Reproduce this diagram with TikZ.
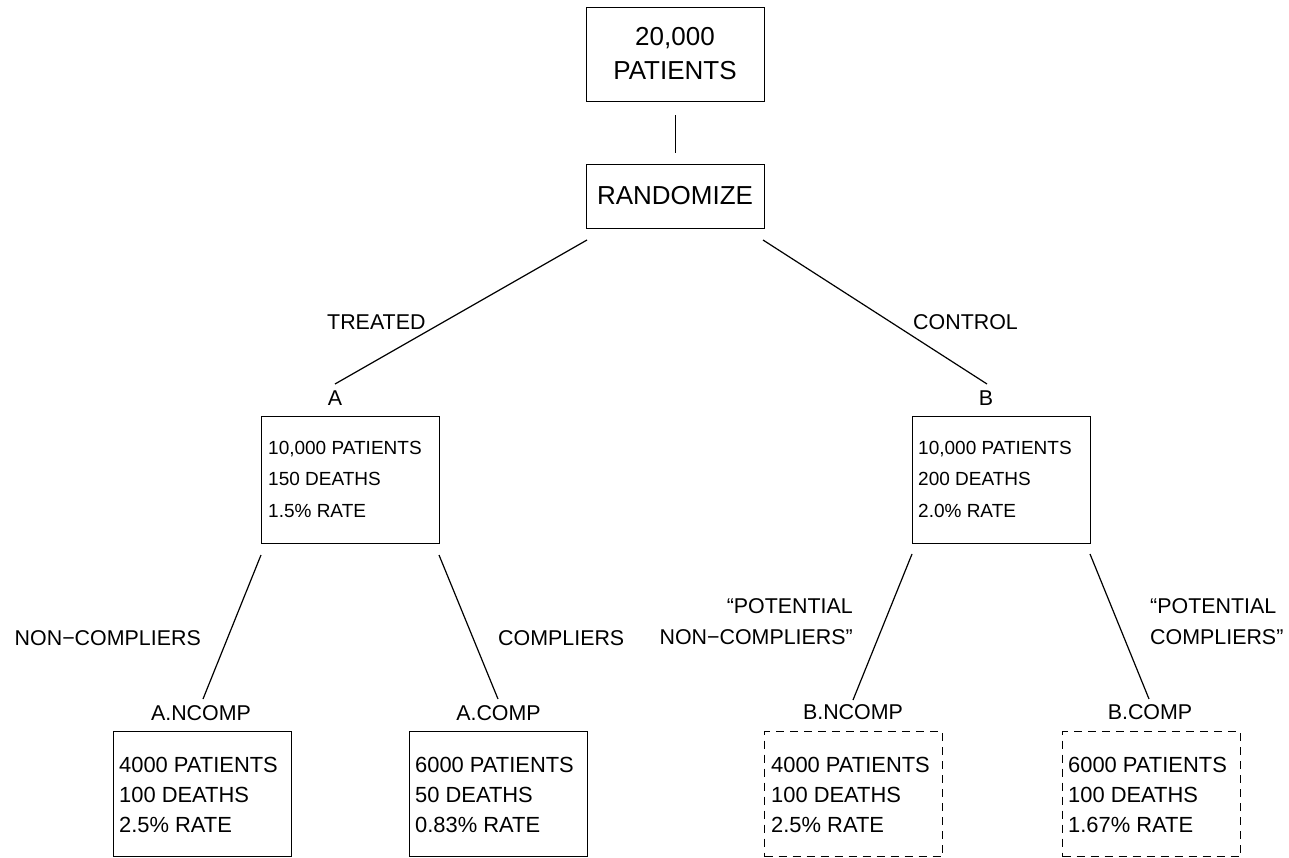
\documentclass[tikz,border=0pt]{standalone}
\usepackage{fontspec}
\setmainfont{Liberation Sans}
\begin{document}
\begin{tikzpicture}[x=1pt,y=-1pt,
  box/.style={draw,line width=1.4pt,rectangle,inner sep=0pt,anchor=north west},
  dbox/.style={box,dash pattern=on 8pt off 6pt},
  conn/.style={line width=1.2pt},
  big/.style={font=\fontsize{26}{30}\selectfont,inner sep=0pt},
  mid/.style={font=\fontsize{19}{22}\selectfont,inner sep=0pt,anchor=base west},
  lbl/.style={font=\fontsize{21.4}{25}\selectfont,inner sep=0pt},
  low/.style={font=\fontsize{21.9}{25}\selectfont,inner sep=0pt,anchor=base west}]
\path[use as bounding box] (0,0) rectangle (1289,858);

% top
\node[box,minimum width=178pt,minimum height=94pt] (top) at (586,7) {};
\node[big,anchor=base] (t1) at (675,46) {20,000};
\node[big,anchor=base] (t2) at (675,80) {PATIENTS};
\node[box,minimum width=178pt,minimum height=64pt] (rand) at (586,164) {};
\node[big,anchor=base] (r1) at (675,205) {RANDOMIZE};
\draw[conn,shorten <=13pt,shorten >=11pt] (top.south) -- (rand.north);

% level 2
\coordinate (rA1) at (587,240); \coordinate (rA2) at (335,384);
\coordinate (rB1) at (763,240); \coordinate (rB2) at (987,384);
\draw[conn] (rA1) -- (rA2);
\draw[conn] (rB1) -- (rB2);
\node[lbl,anchor=base west] (treated) at (327,330) {TREATED};
\node[lbl,anchor=base west] (control) at (913,330) {CONTROL};
\node[lbl,anchor=base] (labA) at (335,405) {A};
\node[lbl,anchor=base] (labB) at (986,405) {B};

\node[box,minimum width=178pt,minimum height=127pt] (Abox) at (261,416) {};
\node[mid] (A1) at (268,454) {10,000 PATIENTS};
\node[mid] (A2) at (268,485) {150 DEATHS};
\node[mid] (A3) at (268,517) {1.5\% RATE};
\node[box,minimum width=178pt,minimum height=127pt] (Bbox) at (912,416) {};
\node[mid] (B1) at (918,454) {10,000 PATIENTS};
\node[mid] (B2) at (918,485) {200 DEATHS};
\node[mid] (B3) at (918,517) {2.0\% RATE};

% level 3 connectors
\coordinate (aN1) at (261,555); \coordinate (aN2) at (203,699);
\coordinate (aC1) at (439,555); \coordinate (aC2) at (498,699);
\coordinate (bN1) at (912,554); \coordinate (bN2) at (853,700);
\coordinate (bC1) at (1090,554); \coordinate (bC2) at (1149,699);
\draw[conn] (aN1) -- (aN2);
\draw[conn] (aC1) -- (aC2);
\draw[conn] (bN1) -- (bN2);
\draw[conn] (bC1) -- (bC2);

\node[lbl,anchor=base east] (ncomp) at (201,645) {NON−COMPLIERS};
\node[lbl,anchor=base west] (comp) at (498,645) {COMPLIERS};
\node[lbl,anchor=base east] (pnc1) at (853,613) {“POTENTIAL};
\node[lbl,anchor=base east] (pnc2) at (853,644) {NON−COMPLIERS”};
\node[lbl,anchor=base west] (pc1) at (1150,613) {“POTENTIAL};
\node[lbl,anchor=base west] (pc2) at (1150,644) {COMPLIERS”};

\node[lbl,anchor=base] (labANC) at (201,720) {A.NCOMP};
\node[lbl,anchor=base] (labAC) at (498.5,720) {A.COMP};
\node[lbl,anchor=base] (labBNC) at (853,719) {B.NCOMP};
\node[lbl,anchor=base] (labBC) at (1150,719) {B.COMP};

% bottom boxes
\node[box,minimum width=178pt,minimum height=125pt] (ANCbox) at (113,731) {};
\node[low] (an1) at (119,772) {4000 PATIENTS};
\node[low] (an2) at (119,802) {100 DEATHS};
\node[low] (an3) at (119,832) {2.5\% RATE};
\node[box,minimum width=178pt,minimum height=125pt] (ACbox) at (409,731) {};
\node[low] (ac1) at (415,772) {6000 PATIENTS};
\node[low] (ac2) at (415,802) {50 DEATHS};
\node[low] (ac3) at (415,832) {0.83\% RATE};
\node[dbox,minimum width=178pt,minimum height=125pt] (BNCbox) at (764,731) {};
\node[low] (bn1) at (771,772) {4000 PATIENTS};
\node[low] (bn2) at (771,802) {100 DEATHS};
\node[low] (bn3) at (771,832) {2.5\% RATE};
\node[dbox,minimum width=178pt,minimum height=125pt] (BCbox) at (1062,731) {};
\node[low] (bc1) at (1068,772) {6000 PATIENTS};
\node[low] (bc2) at (1068,802) {100 DEATHS};
\node[low] (bc3) at (1068,832) {1.67\% RATE};
\end{tikzpicture}
\end{document}
